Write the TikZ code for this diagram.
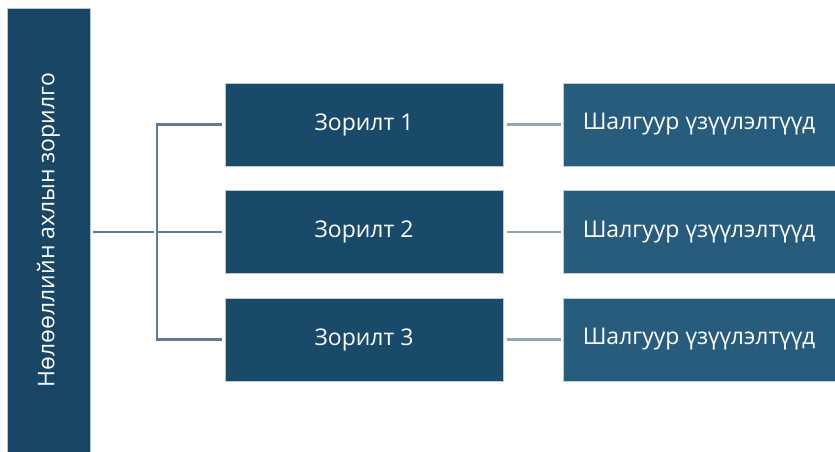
\documentclass[tikz,border=0pt]{standalone}
\usepackage{fontspec}
\setmainfont{Open Sans}
\usetikzlibrary{positioning}
\definecolor{goalcolor}{RGB}{25,74,106}
\definecolor{aimcolor}{RGB}{24,70,100}
\definecolor{measurecolor}{RGB}{40,92,125}
\definecolor{linkcolor}{RGB}{96,124,150}
\definecolor{softlinkcolor}{RGB}{150,164,180}

\begin{document}
\begin{tikzpicture}[
    x=1pt, y=-1pt,
    box/.style={draw=white!70!#1, fill=#1, text=white, minimum height=83pt, inner sep=0pt, font=\fontsize{23}{27}\selectfont},
    link/.style={draw=linkcolor, line width=2.2pt, shorten <=3pt, shorten >=3pt},
    softlink/.style={draw=softlinkcolor, line width=2.2pt, shorten <=4pt, shorten >=2pt}
]
    \useasboundingbox (0,0) rectangle (835,452);

    % Aim bar
    \node[box=aimcolor, rotate=90, minimum width=444pt] (aim) at (48.5,230) {Нөлөөллийн ахлын зорилго};

    % Goals
    \node[box=goalcolor, minimum width=278pt] (goal1) at (364,124.5) {Зорилт 1};
    \node[box=goalcolor, minimum width=278pt] (goal2) at (364,232) {Зорилт 2};
    \node[box=goalcolor, minimum width=278pt] (goal3) at (364,339.5) {Зорилт 3};

    % Measures
    \node[box=measurecolor, minimum width=272pt] (measure1) at (699,124.5) {Шалгуур үзүүлэлтүүд};
    \node[box=measurecolor, minimum width=272pt] (measure2) at (699,232) {Шалгуур үзүүлэлтүүд};
    \node[box=measurecolor, minimum width=272pt] (measure3) at (699,339.5) {Шалгуур үзүүлэлтүүд};

    % Connections
    \coordinate (split) at (157,232);
    \draw[link] (aim.south |- split) -- (split);
    \draw[link] (goal1.west) -| (split) |- (goal3.west);
    \draw[link, shorten <=0pt] (split) -- (goal2.west);
    \draw[softlink] (goal1.east) -- (measure1.west);
    \draw[softlink] (goal2.east) -- (measure2.west);
    \draw[softlink] (goal3.east) -- (measure3.west);
\end{tikzpicture}
\end{document}
